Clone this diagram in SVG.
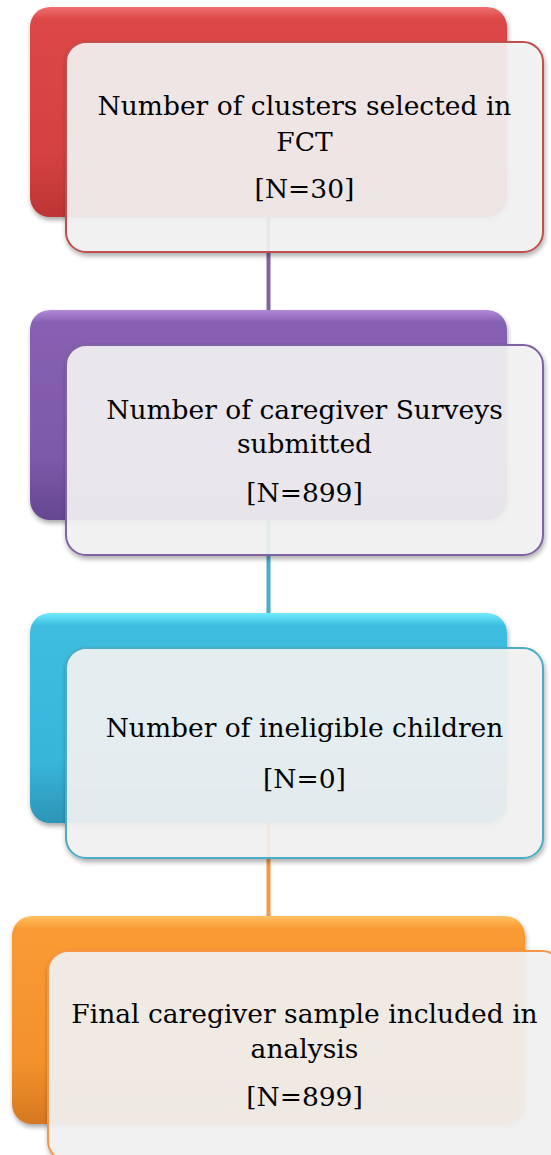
<svg xmlns="http://www.w3.org/2000/svg" width="551" height="1155" viewBox="0 0 551 1155">
<defs>
<linearGradient id="gRed" x1="0" y1="0" x2="0" y2="1">
<stop offset="0" stop-color="#f07070"/><stop offset="0.06" stop-color="#dc4646"/><stop offset="0.7" stop-color="#d54242"/><stop offset="1" stop-color="#bd3434"/>
</linearGradient>
<linearGradient id="gPur" x1="0" y1="0" x2="0" y2="1">
<stop offset="0" stop-color="#b08ad8"/><stop offset="0.06" stop-color="#8660b2"/><stop offset="0.7" stop-color="#7e5aaa"/><stop offset="1" stop-color="#654690"/>
</linearGradient>
<linearGradient id="gBlu" x1="0" y1="0" x2="0" y2="1">
<stop offset="0" stop-color="#70ecff"/><stop offset="0.06" stop-color="#3dbde0"/><stop offset="0.7" stop-color="#38b6da"/><stop offset="1" stop-color="#2c95b6"/>
</linearGradient>
<linearGradient id="gOra" x1="0" y1="0" x2="0" y2="1">
<stop offset="0" stop-color="#ffc060"/><stop offset="0.06" stop-color="#fa9a34"/><stop offset="0.7" stop-color="#f3922c"/><stop offset="1" stop-color="#d67820"/>
</linearGradient>
<filter id="sh" x="-10%" y="-10%" width="120%" height="130%">
<feGaussianBlur in="SourceAlpha" stdDeviation="2.5"/>
<feOffset dx="1" dy="3" result="b"/>
<feComponentTransfer><feFuncA type="linear" slope="0.35"/></feComponentTransfer>
<feMerge><feMergeNode/><feMergeNode in="SourceGraphic"/></feMerge>
</filter>
</defs>
<style>
.front{fill:#f4f4f4;fill-opacity:0.9;stroke-width:2}
.lbl{font-family:"DejaVu Serif","Liberation Serif",serif;font-size:26.5px;fill:#000;text-anchor:middle}
.con{stroke-width:4;fill:none}
</style>
<g id="connectors">
<line class="con" x1="268.5" y1="215" x2="268.5" y2="311" stroke="#8064a2"/>
<line class="con" x1="268.5" y1="518" x2="268.5" y2="614" stroke="#4bacc6"/>
<line class="con" x1="268.5" y1="821" x2="268.5" y2="917" stroke="#f79646"/>
</g>
<g id="node1">
<rect x="30" y="7" width="477" height="210" rx="20" fill="url(#gRed)" filter="url(#sh)"/>
<rect class="front" x="66" y="42" width="477" height="210" rx="20" stroke="#c0504d" filter="url(#sh)"/>
<text class="lbl" x="304.5" y="115">Number of clusters selected in</text>
<text class="lbl" x="304.5" y="150.5">FCT</text>
<text class="lbl" x="304.5" y="198">[N=30]</text>
</g>
<g id="node2">
<rect x="30" y="310" width="477" height="210" rx="20" fill="url(#gPur)" filter="url(#sh)"/>
<rect class="front" x="66" y="345" width="477" height="210" rx="20" stroke="#8064a2" filter="url(#sh)"/>
<text class="lbl" x="304.5" y="418.5">Number of caregiver Surveys</text>
<text class="lbl" x="304.5" y="453">submitted</text>
<text class="lbl" x="304.5" y="501.5">[N=899]</text>
</g>
<g id="node3">
<rect x="30" y="613" width="477" height="210" rx="20" fill="url(#gBlu)" filter="url(#sh)"/>
<rect class="front" x="66" y="648" width="477" height="210" rx="20" stroke="#4bacc6" filter="url(#sh)"/>
<text class="lbl" x="304.5" y="737">Number of ineligible children</text>
<text class="lbl" x="304.5" y="788">[N=0]</text>
</g>
<g id="node4">
<rect x="12" y="916" width="513" height="208" rx="20" fill="url(#gOra)" filter="url(#sh)"/>
<rect class="front" x="48" y="951" width="514" height="210" rx="20" stroke="#f79646" filter="url(#sh)"/>
<text class="lbl" x="304.5" y="1023">Final caregiver sample included in</text>
<text class="lbl" x="304.5" y="1058">analysis</text>
<text class="lbl" x="304.5" y="1106">[N=899]</text>
</g>
</svg>
